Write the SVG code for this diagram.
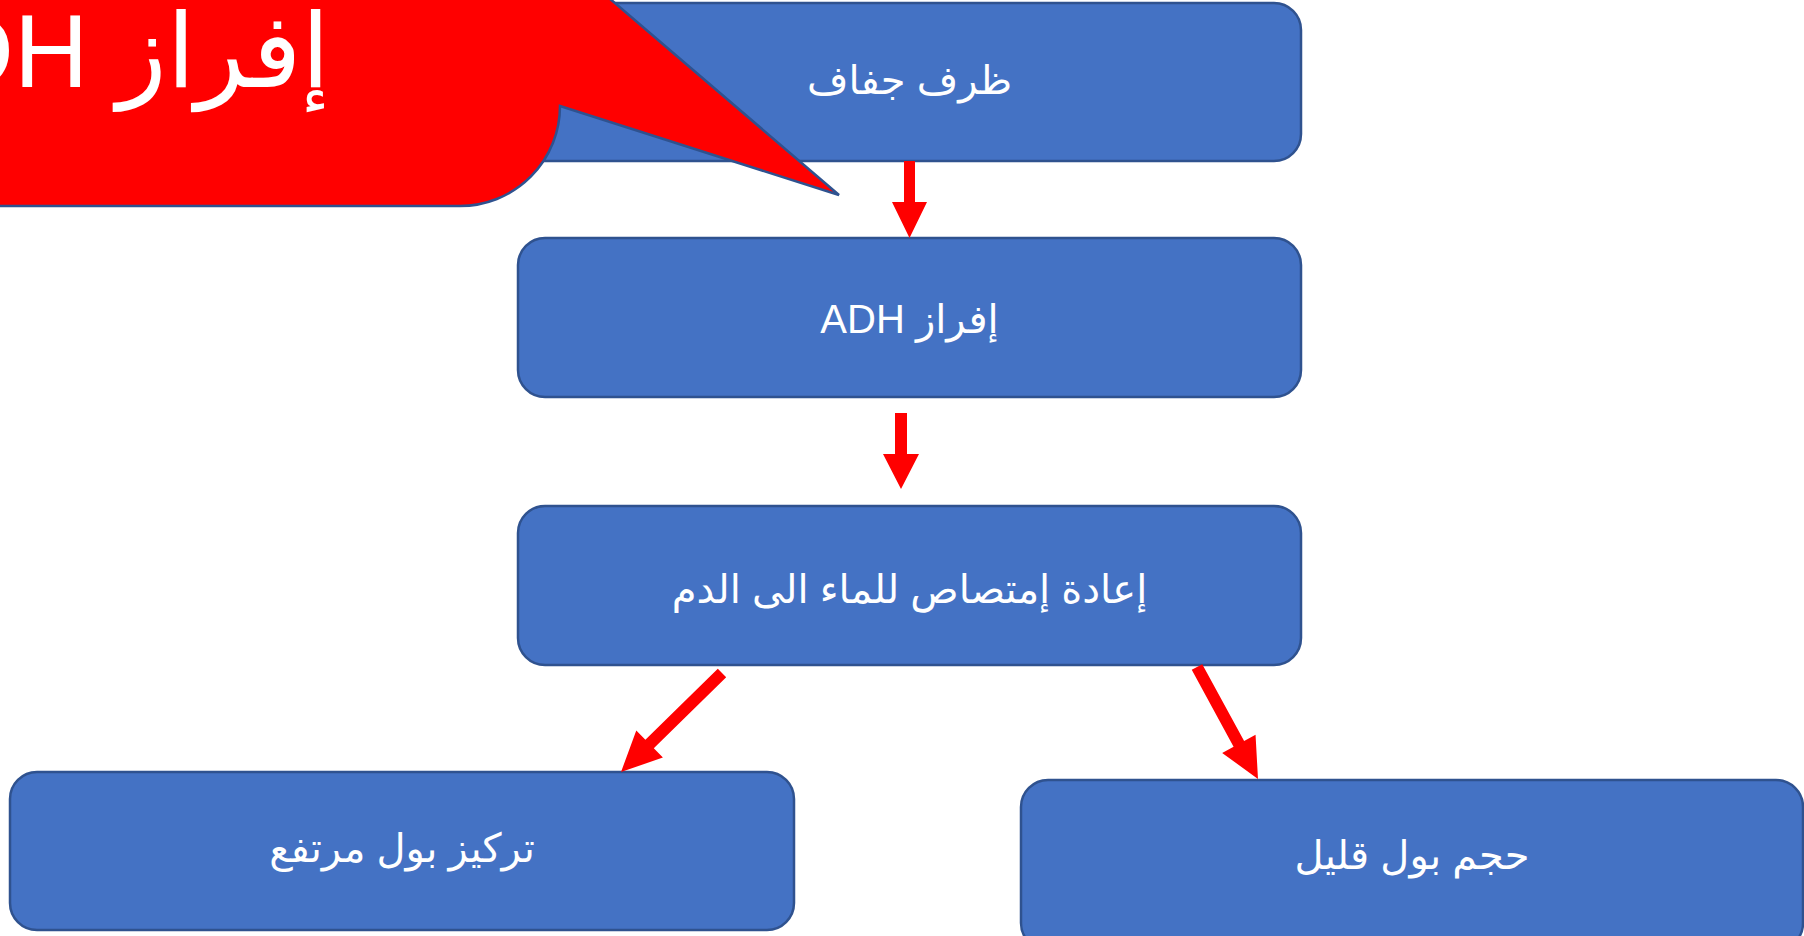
<svg xmlns="http://www.w3.org/2000/svg" width="1804" height="936" viewBox="0 0 1804 936">
<style>
.box{fill:#4472C4;stroke:#2F528F;stroke-width:2.5}
.lbl{fill:#FFFFFF;font-family:"Liberation Sans","DejaVu Sans",sans-serif;font-size:40px}
.arrow{fill:#FF0000;stroke:none}
.callout{fill:#FF0000;stroke:#2F528F;stroke-width:2.5}
</style>
<rect width="1804" height="936" fill="#FFFFFF"/>
<g id="node-dry">
<rect class="box" x="518" y="3" width="783" height="158" rx="27" ry="27"/>
<text class="lbl" x="909.5" y="94" text-anchor="middle" direction="rtl">ظرف جفاف</text>
</g>
<g id="node-adh">
<rect class="box" x="518" y="238" width="783" height="159" rx="27" ry="27"/>
<text class="lbl" x="909.5" y="333" text-anchor="middle" direction="rtl">إفراز ADH</text>
</g>
<g id="node-reabsorb">
<rect class="box" x="518" y="506" width="783" height="159" rx="27" ry="27"/>
<text class="lbl" x="909.5" y="603" text-anchor="middle" direction="rtl">إعادة إمتصاص للماء الى الدم</text>
</g>
<g id="node-concentration">
<rect class="box" x="10" y="772" width="784" height="158" rx="27" ry="27"/>
<text class="lbl" x="402" y="862" text-anchor="middle" direction="rtl">تركيز بول مرتفع</text>
</g>
<g id="node-volume">
<rect class="box" x="1021" y="780" width="782" height="170" rx="27" ry="27"/>
<text class="lbl" x="1412" y="869" text-anchor="middle" direction="rtl">حجم بول قليل</text>
</g>
<g id="connectors">
<polygon class="arrow" points="904,161 915,161 915,202 927,202 909.5,238 892,202 904,202"/>
<polygon class="arrow" points="895,413 907,413 907,454 919,454 901,489 883,454 895,454"/>
<polygon class="arrow" transform="translate(722,673) rotate(135.57)" points="0,-6 101.4,-6 101.4,-19 141.4,0 101.4,19 101.4,6 0,6"/>
<polygon class="arrow" transform="translate(1197,667) rotate(61.42)" points="0,-6 87.5,-6 87.5,-19 127.5,0 87.5,19 87.5,6 0,6"/>
</g>
<g id="callout">
<path class="callout" d="M -10,-60 H 560 V -44 L 839,195 L 560,106 A 100,100 0 0 1 460,206 H -10 Z"/>
<text x="330" y="87" fill="#FFFFFF" font-family="Liberation Sans, DejaVu Sans, sans-serif" font-size="103" text-anchor="start" direction="rtl">إفراز ADH</text>
</g>
</svg>
